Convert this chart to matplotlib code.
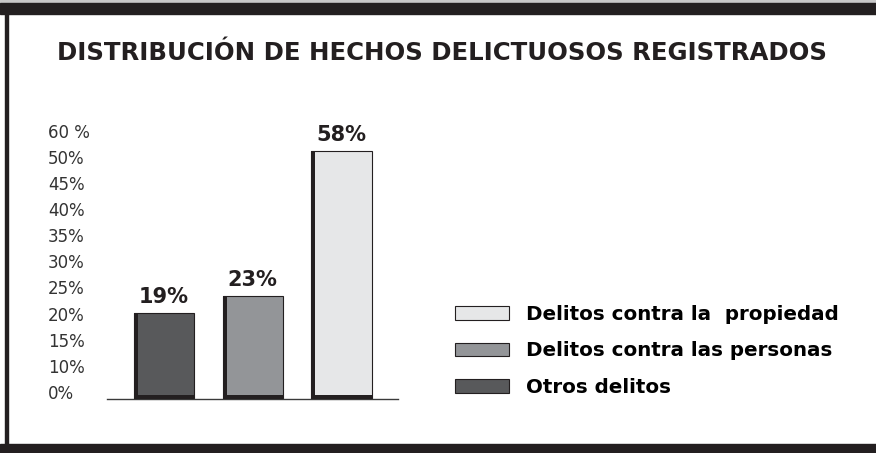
import matplotlib

matplotlib.use("Agg")
import matplotlib.pyplot as plt
import numpy as np
from matplotlib.patches import Rectangle

# data
categories = ["Otros delitos", "Delitos contra las personas", "Delitos contra la  propiedad"]
bar_heights = [21.5, 24.7, 55.0]  # height on the printed (uneven) percent axis
value_labels = ["19%", "23%", "58%"]
tick_values = [0, 10, 15, 20, 25, 30, 35, 40, 45, 50, 60]
tick_labels = ["0%", "10%", "15%", "20%", "25%", "30%", "35%", "40%", "45%", "50%", "60 %"]
title = "DISTRIBUCIÓN DE HECHOS DELICTUOSOS REGISTRADOS"

INK = "#231f20"
bar_colors = ["#58595b", "#939598", "#e6e7e8"]

slots = np.arange(len(tick_values), dtype=float)
ticks_arr = np.asarray(tick_values, dtype=float)


def forward(v):
    v = np.asarray(v, dtype=float)
    out = np.interp(v, ticks_arr, slots)
    out = np.where(v > ticks_arr[-1], slots[-1] + (v - ticks_arr[-1]) / 10, out)
    return np.where(v < 0, v / 10, out)


def inverse(s):
    s = np.asarray(s, dtype=float)
    out = np.interp(s, slots, ticks_arr)
    out = np.where(s > slots[-1], ticks_arr[-1] + (s - slots[-1]) * 10, out)
    return np.where(s < 0, s * 10, out)


W, H = 876, 453
fig = plt.figure(figsize=(W / 100, H / 100), dpi=100)
ax = fig.add_axes([107 / W, (H - 399) / H, 291 / W, 261.3 / H])
ax.set_yscale("function", functions=(forward, inverse))
ax.set_ylim(0, 60)
ax.set_xlim(-0.643, 2.637)

x = np.arange(len(bar_heights))
width = 0.678
bars = ax.bar(x, bar_heights, width, color=bar_colors, edgecolor=INK, linewidth=0.8, zorder=2)
# heavy left and bottom edges give the bars their shaded look
ax.bar(x - width / 2, bar_heights, 0.045, align="edge", color=INK, zorder=3)
ax.bar(x, 1.5, width, color=INK, zorder=3)

for xi, h, lbl in zip(x, bar_heights, value_labels):
    ax.annotate(lbl, (xi, h), xytext=(0, 11.5), textcoords="offset points",
                ha="center", va="center", fontsize=15, fontweight="bold",
                family="DejaVu Sans", color=INK)

for side in ("top", "right", "left"):
    ax.spines[side].set_visible(False)
ax.spines["bottom"].set_color("#3a3a3a")
ax.spines["bottom"].set_linewidth(1.0)
ax.set_xticks([])
ax.set_yticks(tick_values, tick_labels)
ax.tick_params(axis="y", length=0, pad=42.5, labelsize=12, labelcolor="#333333")
for t in ax.get_yticklabels():
    t.set_horizontalalignment("left")
    t.set_verticalalignment("baseline")
ax.patch.set_visible(False)

handles = [bars[2], bars[1], bars[0]]
ax.legend(handles, categories[::-1], loc="upper left",
          bbox_to_anchor=(455 / W, 1 - 305 / H), bbox_transform=fig.transFigure,
          frameon=False, borderpad=0, borderaxespad=0,
          handlelength=2.7, handleheight=0.7, handletextpad=0.86, labelspacing=0.88,
          prop={"family": "DejaVu Sans", "weight": "bold", "size": 14.3})

fig.text(442 / W, 1 - 53 / H, title, ha="center", va="center",
         fontsize=17.6, fontweight="bold", family="DejaVu Sans", color=INK)

# page frame: heavy top and bottom rules, thin left rule
fig.add_artist(Rectangle((0, 1 - 3 / H), 1, 3 / H, color="#c8c8c8", transform=fig.transFigure))
fig.add_artist(Rectangle((0, 1 - 14 / H), 1, 11 / H, color=INK, transform=fig.transFigure))
fig.add_artist(Rectangle((5 / W, 9 / H), 3 / W, (H - 23) / H, color=INK, transform=fig.transFigure))
fig.add_artist(Rectangle((0, 0), 1, 9 / H, color=INK, transform=fig.transFigure))

fig.savefig("out.png", dpi=100)
